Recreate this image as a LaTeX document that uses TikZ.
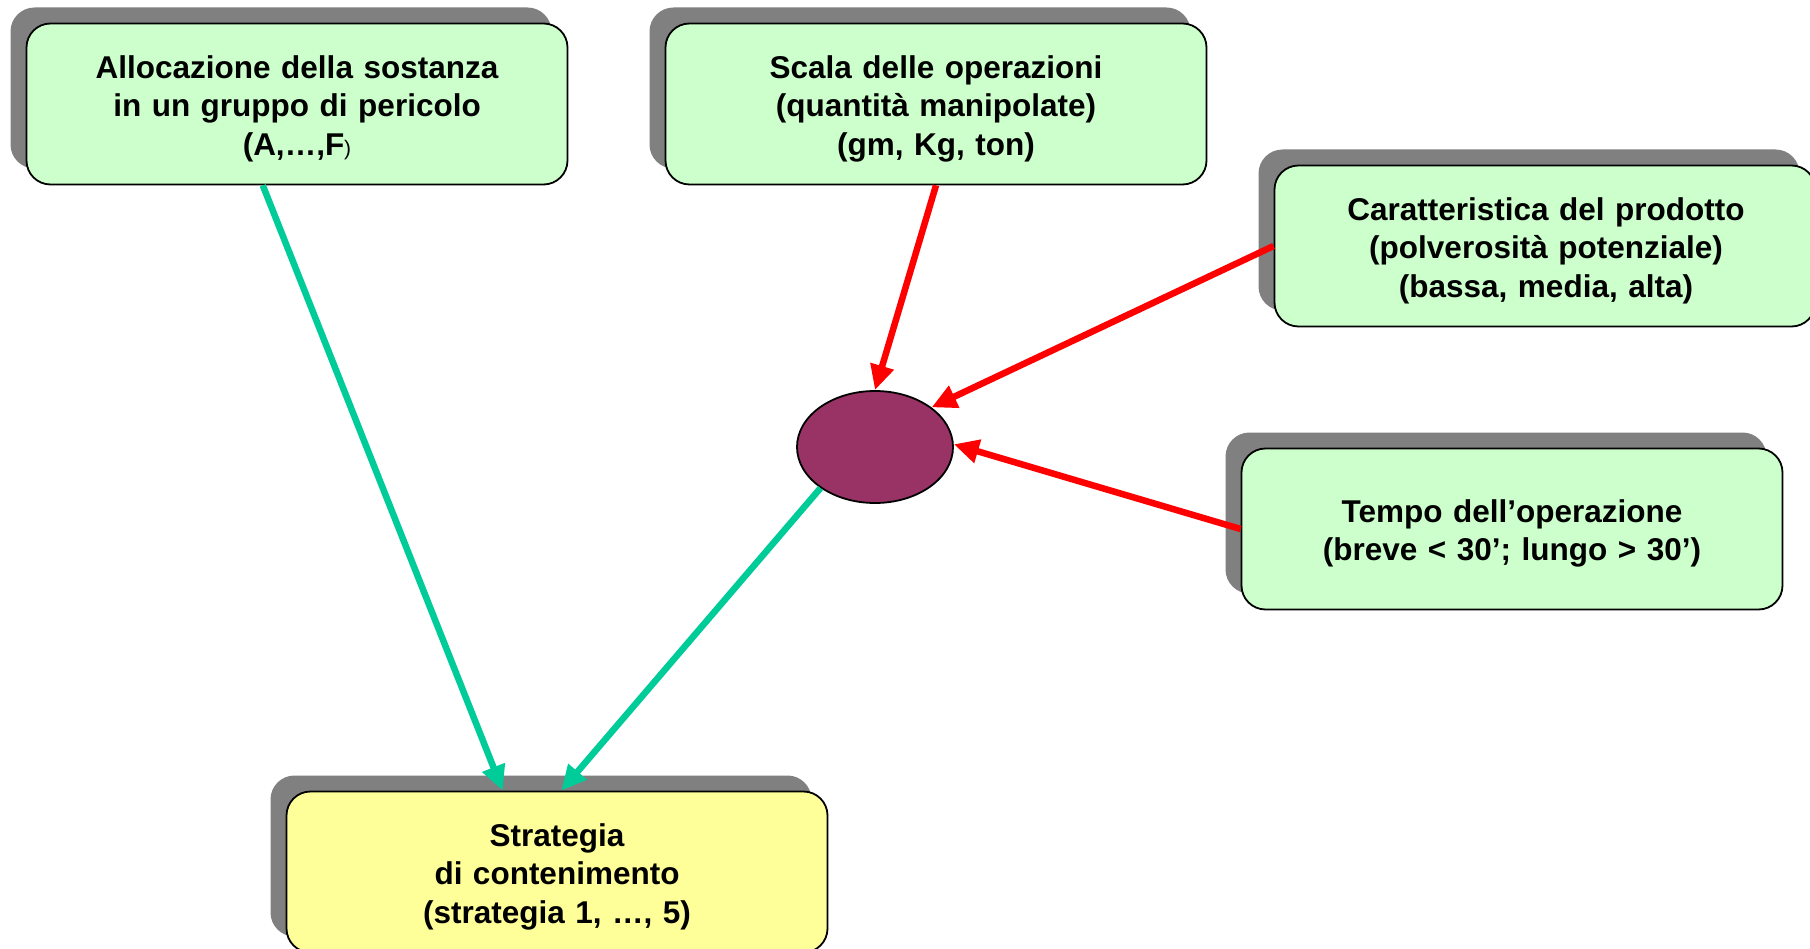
\documentclass[tikz,border=0pt]{standalone}
\usepackage{fontspec}
\setmainfont{Liberation Sans}
\usetikzlibrary{shadows,shapes.geometric,arrows.meta,calc}

\definecolor{boxgreen}{HTML}{CCFFCC}
\definecolor{boxyellow}{HTML}{FFFF99}
\definecolor{shadowgray}{HTML}{808080}
\definecolor{hub}{HTML}{993366}
\definecolor{flowred}{HTML}{FF0000}
\definecolor{flowgreen}{HTML}{00CC99}

\tikzset{
  infobox/.style={draw=black, line width=1.8pt, rounded corners=24pt,
    minimum width=541pt, minimum height=161pt, inner sep=0pt,
    general shadow={fill=shadowgray, shadow xshift=-16pt, shadow yshift=16pt}},
  greenbox/.style={infobox, fill=boxgreen},
  yellowbox/.style={infobox, fill=boxyellow},
  boxtext/.style={align=center, inner sep=0pt, text width=530pt,
    font=\fontsize{31.5}{38.5}\selectfont\bfseries},
  hubnode/.style={ellipse, draw=black, line width=1.8pt, fill=hub,
    minimum width=156pt, minimum height=112pt, inner sep=0pt},
  redflow/.style={draw=flowred, line width=6.5pt,
    -{Triangle[length=25pt,width=23pt]}},
  greenflow/.style={draw=flowgreen, line width=6.5pt,
    -{Triangle[length=25pt,width=23pt]}}
}

\begin{document}
\begin{tikzpicture}[x=1pt,y=-1pt]
\useasboundingbox (0,0) rectangle (1810,949);
\clip (0,0) rectangle (1810,949);

% input boxes
\node[greenbox] (alloc) at (297,104) {};
\node[greenbox] (scala) at (936,104) {};
\node[greenbox] (prod) at (1545,246) {};
\node[greenbox] (tempo) at (1512,529) {};

% combining node
\node[hubnode] (hub) at (875,447) {};

% result box
\node[yellowbox] (strat) at (557,872) {};

% box texts, set slightly below each box centre
\node[boxtext] (alloc-t) at ($(alloc)+(0,4.5)$)
  {Allocazione della sostanza\\in un gruppo di pericolo\\(A,…,F{\mdseries\fontsize{21}{22}\selectfont )}};
\node[boxtext] (scala-t) at ($(scala)+(0,4.5)$)
  {Scala delle operazioni\\(quantità manipolate)\\(gm, Kg, ton)};
\node[boxtext] (prod-t) at ($(prod)+(1,4.5)$)
  {Caratteristica del prodotto\\(polverosità potenziale)\\(bassa, media, alta)};
\node[boxtext] (tempo-t) at ($(tempo)+(0,4.5)$)
  {Tempo dell’operazione\\(breve < 30’; lungo > 30’)};
\node[boxtext] (strat-t) at ($(strat)+(0,4.5)$)
  {Strategia\\di contenimento\\(strategia 1, …, 5)};

% connectors
\draw[greenflow] ($(alloc.south west)!0.437!(alloc.south east)$)
  -- ($(strat.north west)!0.40!(strat.north east)$);
\draw[greenflow] (hub.217) -- ($(strat.north west)!0.508!(strat.north east)$);
\draw[redflow] (scala.south) -- (hub.north);
\draw[redflow] (prod.west) -- (hub.35);
\draw[redflow] (tempo.west) -- (hub.2);
\end{tikzpicture}
\end{document}
